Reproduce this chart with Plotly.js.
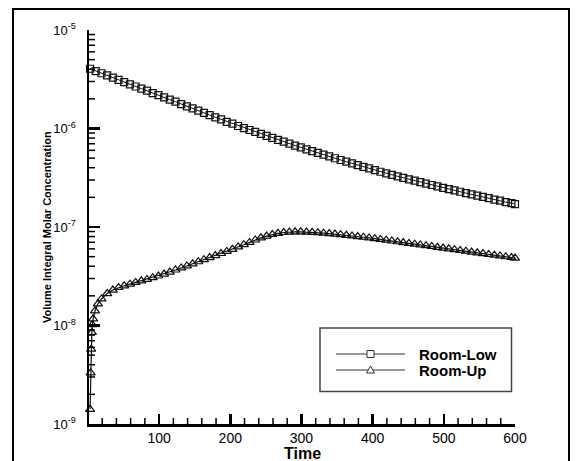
<!DOCTYPE html>
<html>
<head>
<meta charset="utf-8">
<script src="https://cdn.plot.ly/plotly-3.0.1.min.js"></script>
<style>html,body{margin:0;padding:0;background:#fff;}#chart{width:582px;height:461px;}</style>
</head>
<body>
<div id="chart"></div>
<script>
// Room-Low series
const timeLow = [3,11,19,27,35,43,51,59,67,75,83,91,99,107,115,123,131,139,147,155,163,171,179,187,195,203,211,219,227,235,243,251,259,267,275,283,291,299,307,315,323,331,339,347,355,363,371,379,387,395,403,411,419,427,435,443,451,459,467,475,483,491,499,507,515,523,531,539,547,555,563,571,579,587,595,600];
const concLow = [4.04e-6,3.83e-6,3.64e-6,3.46e-6,3.28e-6,3.12e-6,2.96e-6,2.81e-6,2.67e-6,2.54e-6,2.42e-6,2.29e-6,2.18e-6,2.07e-6,1.96e-6,1.87e-6,1.77e-6,1.68e-6,1.60e-6,1.52e-6,1.44e-6,1.37e-6,1.30e-6,1.24e-6,1.17e-6,1.12e-6,1.06e-6,1.01e-6,9.66e-7,9.23e-7,8.81e-7,8.41e-7,8.04e-7,7.67e-7,7.35e-7,7.02e-7,6.71e-7,6.43e-7,6.15e-7,5.90e-7,5.66e-7,5.42e-7,5.20e-7,4.99e-7,4.79e-7,4.60e-7,4.42e-7,4.25e-7,4.08e-7,3.93e-7,3.78e-7,3.64e-7,3.51e-7,3.39e-7,3.27e-7,3.16e-7,3.05e-7,2.95e-7,2.85e-7,2.76e-7,2.67e-7,2.58e-7,2.50e-7,2.42e-7,2.35e-7,2.28e-7,2.21e-7,2.14e-7,2.08e-7,2.02e-7,1.96e-7,1.90e-7,1.85e-7,1.79e-7,1.75e-7,1.71e-7];
// Room-Up series
const timeUp = [3,3.8,4.5,5.5,6.2,7.3,10,14,19,27,35,43,51,59,67,75,83,91,99,107,115,123,131,139,147,155,163,171,179,187,195,203,211,219,227,235,243,251,259,267,275,283,291,299,307,315,323,331,339,347,355,363,371,379,387,395,403,411,419,427,435,443,451,459,467,475,483,491,499,507,515,523,531,539,547,555,563,571,579,587,595,600];
const concUp = [1.41e-9,3.31e-9,5.75e-9,8.51e-9,1.02e-8,1.17e-8,1.41e-8,1.66e-8,1.86e-8,2.11e-8,2.29e-8,2.43e-8,2.53e-8,2.63e-8,2.74e-8,2.84e-8,2.94e-8,3.06e-8,3.18e-8,3.33e-8,3.49e-8,3.66e-8,3.84e-8,4.03e-8,4.23e-8,4.44e-8,4.66e-8,4.89e-8,5.13e-8,5.38e-8,5.65e-8,5.94e-8,6.27e-8,6.61e-8,6.98e-8,7.38e-8,7.76e-8,8.09e-8,8.39e-8,8.63e-8,8.79e-8,8.89e-8,8.93e-8,8.93e-8,8.89e-8,8.83e-8,8.75e-8,8.67e-8,8.57e-8,8.47e-8,8.36e-8,8.24e-8,8.13e-8,8.00e-8,7.87e-8,7.74e-8,7.62e-8,7.48e-8,7.35e-8,7.21e-8,7.08e-8,6.95e-8,6.82e-8,6.70e-8,6.58e-8,6.46e-8,6.34e-8,6.22e-8,6.11e-8,6.00e-8,5.89e-8,5.78e-8,5.68e-8,5.57e-8,5.47e-8,5.37e-8,5.27e-8,5.18e-8,5.08e-8,4.99e-8,4.90e-8,4.84e-8];

const seriesNames = ['Room-Low', 'Room-Up'];
const xTickVals = [100,200,300,400,500,600];
const xMinorVals = [20,40,60,80,120,140,160,180,220,240,260,280,320,340,360,380,420,440,460,480,520,540,560,580];
const yTickVals = [1e-9,1e-8,1e-7,1e-6,1e-5];
const yTickText = ['10<sup>-9</sup>','10<sup>-8</sup>','10<sup>-7</sup>','10<sup>-6</sup>','10<sup>-5</sup>'];
const yMinorVals = [2e-9,3e-9,4e-9,5e-9,6e-9,7e-9,8e-9,9e-9,2e-8,3e-8,4e-8,5e-8,6e-8,7e-8,8e-8,9e-8,2e-7,3e-7,4e-7,5e-7,6e-7,7e-7,8e-7,9e-7,2e-6,3e-6,4e-6,5e-6,6e-6,7e-6,8e-6,9e-6];

const FONT = 'Arial, "Liberation Sans", Helvetica, sans-serif';

const L = 89, R = 515, T = 30, B = 424;
const px = v => (v - L) / (R - L);
const py = v => (B - v) / (B - T);

const traces = [
  {x: timeLow, y: concLow, name: seriesNames[0], mode: 'lines+markers', type: 'scatter',
   line: {color: '#111', width: 1}, marker: {symbol: 'square-open', size: 7, color: '#111', line: {width: 1.2}}, showlegend: false, cliponaxis: false},
  {x: timeUp, y: concUp, name: seriesNames[1], mode: 'lines+markers', type: 'scatter',
   line: {color: '#111', width: 1.2}, marker: {symbol: 'triangle-up-open', size: 8, color: '#111', line: {width: 1.2}}, showlegend: false, cliponaxis: false}
];

const lgY1 = 354, lgY2 = 370, lgX0 = 336, lgX1 = 405, lgMx = 370.5;
const shapes = [
  {type: 'rect', xref: 'paper', yref: 'paper', x0: px(13), x1: px(569), y0: py(475), y1: py(9), line: {color: '#000', width: 2}, layer: 'below'},
  {type: 'rect', xref: 'paper', yref: 'paper', x0: px(320), x1: px(511.5), y0: py(391.5), y1: py(328), line: {color: '#444', width: 1.5}, fillcolor: 'rgba(255,255,255,0)'},
  {type: 'line', xref: 'paper', yref: 'paper', x0: px(lgX0), x1: px(lgX1), y0: py(lgY1), y1: py(lgY1), line: {color: '#333', width: 1}},
  {type: 'line', xref: 'paper', yref: 'paper', x0: px(lgX0), x1: px(lgX1), y0: py(lgY2), y1: py(lgY2), line: {color: '#333', width: 1.2}},
  {type: 'rect', xref: 'paper', yref: 'paper', x0: px(lgMx - 3.5), x1: px(lgMx + 3.5), y0: py(lgY1 + 3.5), y1: py(lgY1 - 3.5), line: {color: '#333', width: 1}, fillcolor: '#fff'},
  {type: 'path', xref: 'paper', yref: 'paper',
   path: 'M ' + px(lgMx - 4) + ',' + py(lgY2 + 3) + ' L ' + px(lgMx + 4) + ',' + py(lgY2 + 3) + ' L ' + px(lgMx) + ',' + py(lgY2 - 4) + ' Z',
   line: {color: '#333', width: 1}, fillcolor: '#fff'}
];
// minor ticks, placed through the axes' own scales (6 px long, pointing inward)
xMinorVals.forEach(v => shapes.push({type: 'line', xref: 'x', yref: 'paper', ysizemode: 'pixel', yanchor: 0,
  x0: v, x1: v, y0: 0, y1: 6, line: {color: '#000', width: 1.5}}));
yMinorVals.forEach(v => shapes.push({type: 'line', yref: 'y', xref: 'paper', xsizemode: 'pixel', xanchor: 0,
  y0: v, y1: v, x0: 0, x1: 6, line: {color: '#000', width: 1.5}}));

const annotations = [
  {text: '<b>' + seriesNames[0] + '</b>', xref: 'paper', yref: 'paper', x: px(417), y: py(lgY1), xanchor: 'left', yanchor: 'middle', showarrow: false, font: {family: FONT, size: 15, color: '#000'}},
  {text: '<b>' + seriesNames[1] + '</b>', xref: 'paper', yref: 'paper', x: px(417), y: py(lgY2), xanchor: 'left', yanchor: 'middle', showarrow: false, font: {family: FONT, size: 15, color: '#000'}},
  {text: '<b>Time</b>', xref: 'paper', yref: 'paper', x: px(302), y: py(453.5), xanchor: 'center', yanchor: 'middle', showarrow: false, font: {family: FONT, size: 16, color: '#000'}},
  {text: '<b>Volume Integral Molar Concentration</b>', xref: 'paper', yref: 'paper', x: px(47), y: 0.5, xanchor: 'center', yanchor: 'middle', textangle: -90, showarrow: false, font: {family: FONT, size: 11, color: '#000'}}
];

const layout = {
  width: 582, height: 461,
  margin: {l: L, r: 582 - R, t: T, b: 461 - B, pad: 0},
  paper_bgcolor: '#fff', plot_bgcolor: 'rgba(0,0,0,0)',
  font: {family: FONT, color: '#000', size: 14},
  showlegend: false,
  xaxis: {
    range: [1.5, 600], showgrid: false, zeroline: false,
    showline: true, linecolor: '#000', linewidth: 2.5, mirror: false,
    tickmode: 'array', tickvals: xTickVals, ticks: 'inside', ticklen: 10, tickwidth: 2.5, tickcolor: '#000',
    tickfont: {family: FONT, size: 14, color: '#000'}
  },
  yaxis: {
    type: 'log', range: [-9, -5], showgrid: false, zeroline: false,
    showline: true, linecolor: '#000', linewidth: 2.5, mirror: false,
    tickmode: 'array', tickvals: yTickVals, ticktext: yTickText,
    ticks: 'inside', ticklen: 11, tickwidth: 2.5, tickcolor: '#000', ticklabelstandoff: 8,
    tickfont: {family: FONT, size: 13, color: '#000'}
  },
  shapes: shapes,
  annotations: annotations
};

Plotly.newPlot('chart', traces, layout, {staticPlot: true, displayModeBar: false});
</script>
</body>
</html>
